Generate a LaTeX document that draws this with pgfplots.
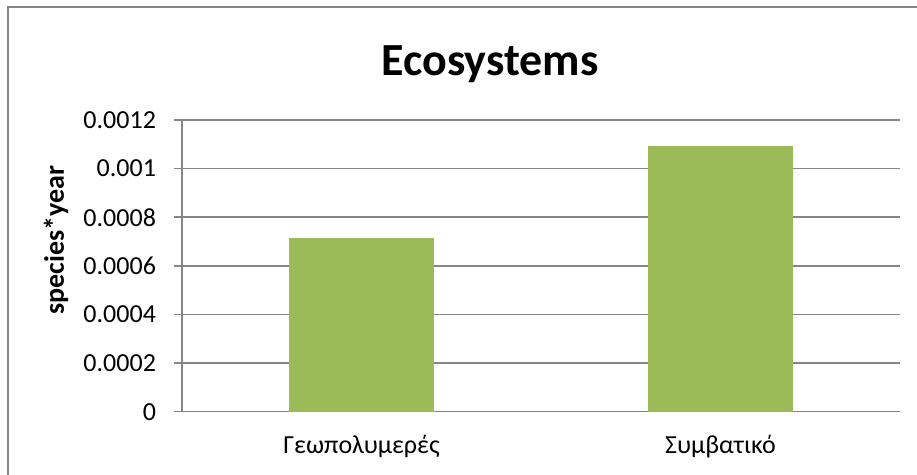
\documentclass[border=0pt]{standalone}
\usepackage{pgfplots}
\pgfplotsset{compat=1.18}
\usepackage{fontspec}
\setmainfont{Carlito}
\definecolor{barGreen}{HTML}{9BBB59}
\definecolor{axGray}{HTML}{868686}
\begin{document}
\begin{tikzpicture}
\useasboundingbox (0,0) rectangle (458.5pt,237.5pt);
% chart frame
\draw[axGray, line width=0.65pt] (4pt,-20pt) rectangle (475pt,234pt);
\begin{axis}[
  at={(91pt,31.65pt)}, anchor=south west,
  scale only axis, width=359pt, height=145.85pt,
  xmin=-0.5, xmax=1.5, ymin=0, ymax=0.0012,
  axis x line*=bottom, axis y line*=left,
  axis line style={axGray, line width=0.75pt},
  xtick={0,1}, xticklabels={Γεωπολυμερές, Συμβατικό},
  major x tick style={draw=none},
  extra x ticks={-0.5,0.5,1.5}, extra x tick labels={},
  extra x tick style={major tick length=4pt, tick align=outside,
    tick style={axGray, line width=0.75pt}, grid=none},
  ytick={0,0.0002,0.0004,0.0006,0.0008,0.001,0.0012},
  yticklabels={0,0.0002,0.0004,0.0006,0.0008,0.001,0.0012},
  scaled y ticks=false,
  ytick style={axGray, line width=0.75pt},
  major tick length=4pt, tick align=outside,
  ymajorgrids, major grid style={axGray, line width=0.75pt},
  ticklabel style={font=\fontsize{13}{15}\selectfont, text=black},
  yticklabel style={xshift=-5.5pt},
  xticklabel style={yshift=-4pt},
  title={Ecosystems},
  title style={font=\bfseries\fontsize{23}{27}\selectfont, at={(rel axis cs:0.429,1.1131)}, anchor=base},
  ylabel={species*year},
  ylabel style={font=\bfseries\fontsize{14}{16}\selectfont, at={(rel axis cs:-0.1755,0.5886)}, anchor=center},
  ybar, bar width=0.4,
]
\addplot[fill=barGreen, draw=barGreen] coordinates {(0,0.000714) (1,0.001093)};
\end{axis}
\end{tikzpicture}
\end{document}
